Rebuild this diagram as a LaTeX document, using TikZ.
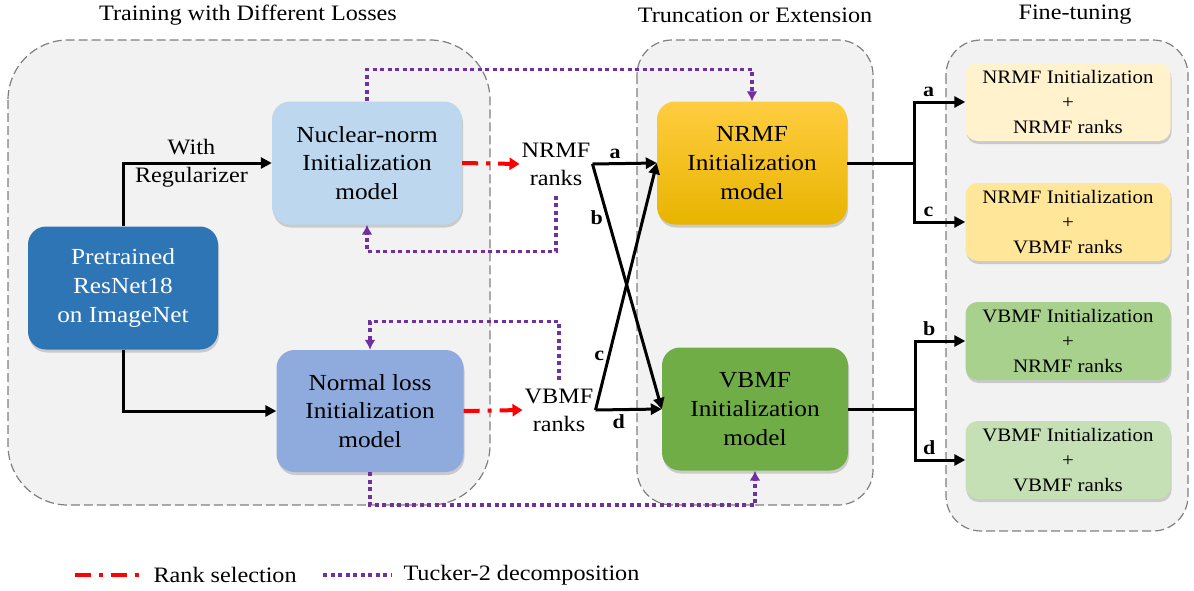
\documentclass[tikz,border=0pt]{standalone}
\usepackage{fontspec}
\setmainfont{Liberation Serif}[FakeStretch=1.1]
\usetikzlibrary{arrows.meta, positioning, shadows}

\definecolor{groupgray}{HTML}{F2F2F2}
\definecolor{pretblue}{HTML}{2E75B6}
\definecolor{nucblue}{HTML}{BDD7EE}
\definecolor{normblue}{HTML}{8FAADC}
\definecolor{goldtop}{HTML}{FFCD40}
\definecolor{goldbot}{HTML}{E8B400}
\definecolor{modelgreen}{HTML}{70AD47}
\definecolor{fta}{HTML}{FFF2CC}
\definecolor{ftc}{HTML}{FFE699}
\definecolor{ftb}{HTML}{A9D18E}
\definecolor{ftd}{HTML}{C5E0B4}
\definecolor{tuckerpurple}{HTML}{7030A0}

\begin{document}
\begin{tikzpicture}[x=1pt,y=-1pt,
  every node/.style={font=\fontsize{22}{28}\selectfont},
  model/.style={rounded corners=18pt, minimum width=190pt, minimum height=123pt, align=center,
    font=\fontsize{23}{28.7}\selectfont,
    drop shadow={shadow xshift=1pt, shadow yshift=-3pt, opacity=0.35}},
  tune/.style={model, minimum width=205pt, minimum height=78pt, rounded corners=12pt,
    font=\fontsize{19}{25}\selectfont},
  group/.style={draw=gray, dash pattern=on 9pt off 4pt, line width=1.2pt, fill=groupgray},
  title/.style={font=\fontsize{22}{26}\selectfont},
  flow/.style={-{Triangle[length=11pt,width=11pt]}, line width=3pt},
  rank/.style={red, line width=4pt, dash pattern=on 16pt off 8pt on 4pt off 8pt,
    -{Triangle[length=10pt,width=12pt]}},
  tucker/.style={tuckerpurple, line width=3.5pt, dash pattern=on 4pt off 3.5pt,
    -{Latex[length=10pt,width=11pt]}},
  tag/.style={font=\bfseries\fontsize{20}{24}\selectfont}]
      \useasboundingbox (0,0) rectangle (1194,590);
      % groups
      \draw[group, rounded corners=60pt] (8,40) rectangle (490,505);
      \draw[group, rounded corners=35pt] (637,40) rectangle (873,505);
      \draw[group, rounded corners=35pt] (946,40) rectangle (1188,531);
      \node[title] (t_train) at (248,15) {Training with Different Losses};
      \node[title] (t_trunc) at (755,15) {Truncation or Extension};
      \node[title] (t_fine) at (1075,15) {Fine-tuning};
      % models
      \node[model, fill=pretblue, text=white] (pre) at (123,288) {Pretrained\\ResNet18\\on ImageNet};
      \node[model, fill=nucblue] (nuc) at (367,163) {Nuclear-norm\\Initialization\\model};
      \node[model, fill=normblue, minimum width=187pt, minimum height=122pt] (norm) at (370,411) {Normal loss\\Initialization\\model};
      \node[inner sep=2pt, align=center] (r_n) at (556,164) {NRMF\\ranks};
      \node[inner sep=2pt, align=center] (r_v) at (559,410) {VBMF\\ranks};
      \node[model, top color=goldtop, bottom color=goldbot] (m_n) at (752,163) {NRMF\\Initialization\\model};
      \node[model, fill=modelgreen, minimum width=186pt] (m_v) at (755,409) {VBMF\\Initialization\\model};
      \node[tune, fill=fta] (f_a) at (1068,102) {NRMF Initialization\\+\\NRMF ranks};
      \node[tune, fill=ftc] (f_c) at (1068,222) {NRMF Initialization\\+\\VBMF ranks};
      \node[tune, fill=ftb] (f_b) at (1068,341) {VBMF Initialization\\+\\NRMF ranks};
      \node[tune, fill=ftd] (f_d) at (1068,460) {VBMF Initialization\\+\\VBMF ranks};
      % training
      \draw[flow] (pre.north) |- node[pos=0.73, align=center] {With\\Regularizer} (nuc.west);
      \draw[flow] (pre.south) |- (norm.west);
      \draw[rank] (nuc.east) -- (r_n.west);
      \draw[rank] (norm.east) -- (r_v.west);
      % truncation or extension
      \path[flow]
      (r_n.east) edge node[tag, above, pos=0.35] {a} (m_n.west)
                 edge node[tag, left, pos=0.22] {b} (m_v.west);
      \path[flow]
      (r_v.east) edge node[tag, left, pos=0.22] {c} (m_n.west)
                 edge node[tag, below, pos=0.35] {d} (m_v.west);
      % tucker-2
      \draw[tucker] (nuc.north) -- ++(0,-32) -| (m_n.north);
      \draw[tucker, shorten <=8pt] (r_n.south) -- ++(0,64) -| (nuc.south);
      \draw[tucker, shorten <=6pt] (r_v.north) -- ++(0,-65) -| (norm.north);
      \draw[tucker] (norm.south) -- ++(0,33) -| (m_v.south);
      % fine-tuning
      \draw[line width=3pt] (m_n.east) -- ++(67,0) coordinate (j_n);
      \draw[line width=3pt] (m_v.east) -- ++(67,0) coordinate (j_v);
      \draw[flow] (j_n) |- node[tag, above, pos=0.64] {a} (f_a.west);
      \draw[flow] (j_n) |- node[tag, above, pos=0.64] {c} (f_c.west);
      \draw[flow] (j_v) |- node[tag, above, pos=0.64] {b} (f_b.west);
      \draw[flow] (j_v) |- node[tag, above, pos=0.64] {d} (f_d.west);
      % legend
      \coordinate (l_r0) at (75,575);
      \coordinate (l_r1) at (139,575);
      \coordinate (l_t0) at (323,575);
      \coordinate (l_t1) at (391,575);
      \draw[rank, -] (l_r0) -- (l_r1);
      \node[anchor=west] (l_rank) at (150,575) {Rank selection};
      \draw[tucker, -] (l_t0) -- (l_t1);
      \node[anchor=west] (l_tuck) at (400,575) {Tucker-2 decomposition};
    \end{tikzpicture}
\end{document}
